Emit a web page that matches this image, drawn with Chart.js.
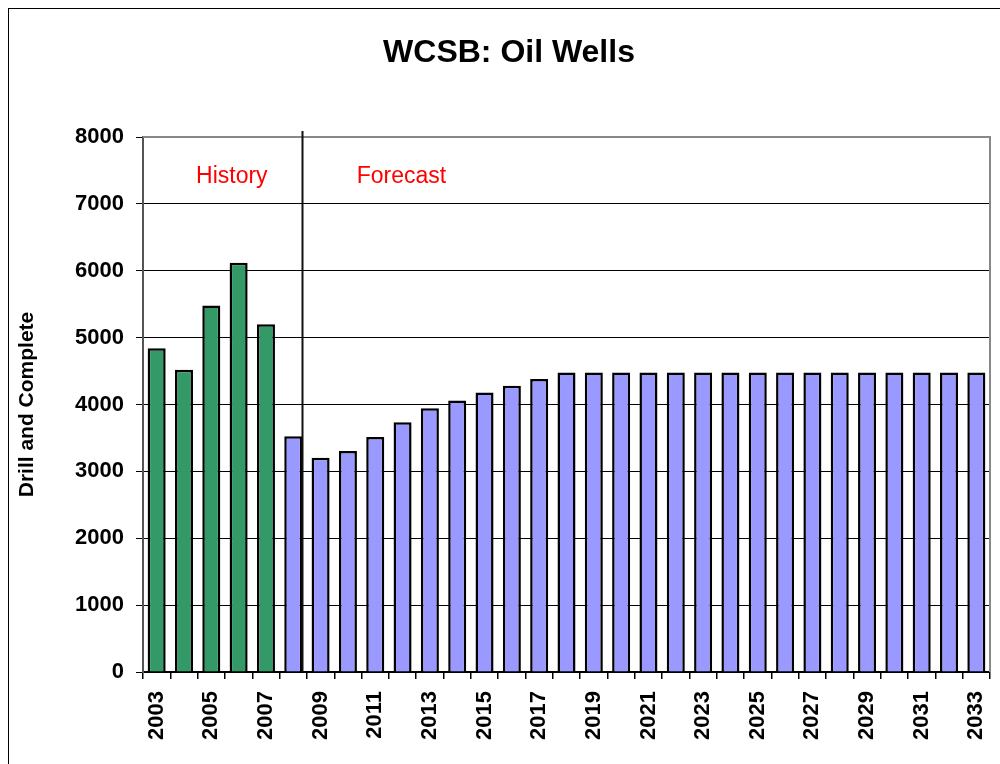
<!DOCTYPE html>
<html>
<head>
<meta charset="utf-8">
<script src="https://cdn.jsdelivr.net/npm/chart.js@4"></script>
<style>
html,body{margin:0;padding:0;background:#fff;}
#wrap{width:1000px;height:764px;position:relative;}
</style>
</head>
<body>
<div id="wrap"><canvas id="c" width="1000" height="764"></canvas></div>
<script>
// ---- Data ----
const years = ['2003','2004','2005','2006','2007','2008','2009','2010','2011','2012',
  '2013','2014','2015','2016','2017','2018','2019','2020','2021','2022','2023','2024',
  '2025','2026','2027','2028','2029','2030','2031','2032','2033'];
const drillAndComplete = [4840, 4520, 5480, 6120, 5200, 3525, 3205, 3305, 3515, 3735,
  3945, 4060, 4180, 4280, 4380, 4480, 4480, 4480, 4480, 4480, 4480, 4480,
  4480, 4480, 4480, 4480, 4480, 4480, 4480, 4480, 4480];
const historyYears = ['2003','2004','2005','2006','2007'];
const dividerAfterYear = '2008';
const yTicks = [0, 1000, 2000, 3000, 4000, 5000, 6000, 7000, 8000];
const titleText = 'WCSB: Oil Wells';
const yAxisTitle = 'Drill and Complete';
const regionLabels = ['History', 'Forecast'];
const regionLabelPos = [2.75, 8.96];   // category index
const regionLabelValue = 7310;         // value-axis position of baseline

const GREEN = '#339966';
const BLUE = '#9999FF';
const FONT = "'Liberation Sans', Arial, Helvetica, sans-serif";

const barColors = years.map(y => historyYears.includes(y) ? GREEN : BLUE);

const decorPlugin = {
  id: 'decor',
  beforeDraw(chart) {
    const ctx = chart.ctx;
    ctx.save();
    ctx.fillStyle = '#fff';
    ctx.fillRect(0, 0, chart.width, chart.height);
    ctx.strokeStyle = '#000';
    ctx.lineWidth = 1;
    ctx.strokeRect(8.5, 8.5, chart.width + 50, chart.height + 50);
    ctx.restore();
  },
  beforeDatasetsDraw(chart) {
    const {ctx, chartArea: a} = chart;
    ctx.save();
    ctx.strokeStyle = '#888';
    ctx.lineWidth = 2;
    ctx.beginPath();
    ctx.moveTo(a.left, a.top);
    ctx.lineTo(a.right, a.top);
    ctx.lineTo(a.right, a.bottom);
    ctx.stroke();
    ctx.restore();
  },
  afterDatasetsDraw(chart) {
    const {ctx, chartArea: a, scales} = chart;
    const meta = chart.getDatasetMeta(0);
    const idx = years.indexOf(dividerAfterYear);
    const bar = meta.data[idx];
    const x = Math.round(bar.x + bar.width / 2) + 0.5;
    ctx.save();
    ctx.strokeStyle = '#111';
    ctx.lineWidth = 2;
    ctx.beginPath();
    ctx.moveTo(x, a.top - 6);
    ctx.lineTo(x, a.bottom);
    ctx.stroke();
    // region labels
    ctx.fillStyle = '#FF0000';
    ctx.font = '23px ' + FONT;
    ctx.textAlign = 'center';
    ctx.textBaseline = 'alphabetic';
    const yPix = scales.y.getPixelForValue(regionLabelValue);
    regionLabels.forEach((t, i) => {
      const p = regionLabelPos[i];
      const f = Math.floor(p);
      const x0 = scales.x.getPixelForValue(f);
      const x1 = scales.x.getPixelForValue(f + 1);
      ctx.fillText(t, x0 + (x1 - x0) * (p - f), yPix);
    });
    // title
    ctx.fillStyle = '#000';
    ctx.font = 'bold 32px ' + FONT;
    ctx.textBaseline = 'alphabetic';
    ctx.fillText(titleText, 509, 62);
    ctx.restore();
  }
};

new Chart(document.getElementById('c'), {
  type: 'bar',
  data: {
    labels: years,
    datasets: [{
      label: yAxisTitle,
      data: drillAndComplete,
      backgroundColor: barColors,
      borderColor: '#000',
      borderWidth: 2.5,
      barPercentage: 0.66,
      categoryPercentage: 1.0
    }]
  },
  options: {
    responsive: false,
    animation: false,
    devicePixelRatio: 1,
    layout: { padding: { top: 137, right: 10, bottom: 0, left: 0 } },
    plugins: {
      legend: { display: false },
      title: { display: false },
      tooltip: { enabled: false }
    },
    scales: {
      x: {
        type: 'category',
        offset: true,
        afterFit(s) { s.height = 92; s.paddingLeft = 0; s.paddingRight = 0; },
        grid: { offset: true, drawOnChartArea: false, drawTicks: true, tickLength: 7, color: '#000', lineWidth: 1.5 },
        border: { display: true, color: '#000', width: 2 },
        ticks: {
          autoSkip: false,
          minRotation: 90,
          maxRotation: 90,
          padding: 12,
          color: '#000',
          font: { family: FONT, size: 22, weight: 'bold' },
          callback: (v, i) => (i % 2 === 0 ? years[i] : '')
        }
      },
      y: {
        min: yTicks[0],
        max: yTicks[yTicks.length - 1],
        afterFit(s) { s.width = 143; s.paddingTop = 0; s.paddingBottom = 0; },
        afterBuildTicks(s) { s.ticks = yTicks.map(v => ({ value: v })); },
        grid: { color: '#000', lineWidth: 1, drawTicks: true, tickLength: 7 },
        border: { display: true, color: '#555', width: 2 },
        ticks: {
          padding: 12,
          color: '#000',
          font: { family: FONT, size: 22, weight: 'bold' },
          callback: (v) => String(v)
        },
        title: {
          display: true,
          text: yAxisTitle,
          color: '#000',
          font: { family: FONT, size: 21, weight: 'bold' },
          padding: { top: 15, bottom: 0 }
        }
      }
    }
  },
  plugins: [decorPlugin]
});
</script>
</body>
</html>
